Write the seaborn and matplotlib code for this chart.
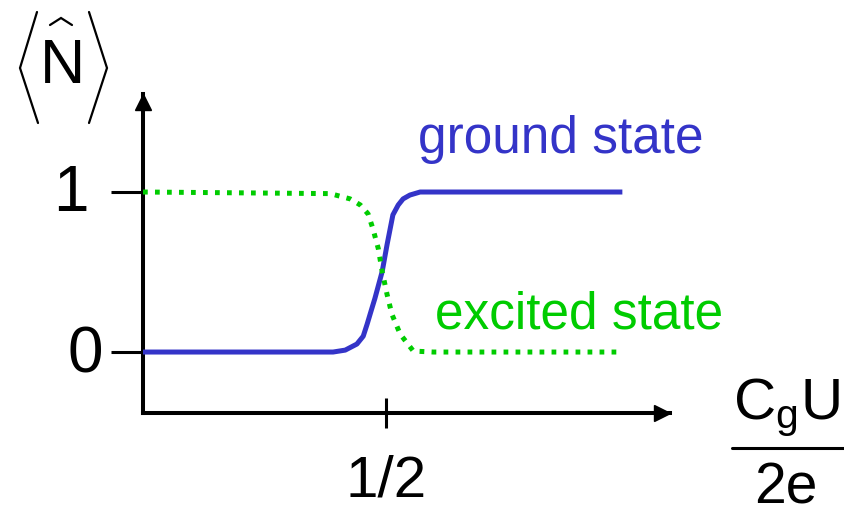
import numpy as np
import pandas as pd
import seaborn as sns
import matplotlib.pyplot as plt
from matplotlib.lines import Line2D
from matplotlib.transforms import ScaledTranslation

# Occupation <N> versus reduced gate charge C_g U / 2e
gate_charge_ground = [0.000, 0.323, 0.391, 0.416, 0.440, 0.453, 0.461, 0.469,
                      0.477, 0.492, 0.502, 0.514, 0.525, 0.535, 0.549, 0.570, 0.986]
occupation_ground = [0.000, 0.000, 0.000, 0.012, 0.050, 0.099, 0.174, 0.255,
                     0.335, 0.503, 0.671, 0.857, 0.919, 0.957, 0.981, 1.000, 1.000]

gate_charge_excited = [0.000, 0.385, 0.426, 0.447, 0.463, 0.473, 0.484, 0.492,
                       0.502, 0.512, 0.529, 0.556, 0.597, 0.986]
occupation_excited = [1.000, 0.990, 0.957, 0.919, 0.863, 0.770, 0.646, 0.503,
                      0.360, 0.236, 0.112, 0.006, 0.000, 0.000]

y_ticks = [0, 1]
y_tick_labels = ["0", "1"]
x_ticks = [0.5]
x_tick_labels = ["1/2"]

series_labels = ["ground state", "excited state"]
BLUE = "#3434c8"
GREEN = "#00cc00"

sns.set_style("white")
plt.rcParams["font.family"] = ["Liberation Sans", "DejaVu Sans"]
plt.rcParams["text.color"] = "black"
plt.rcParams["mathtext.fontset"] = "custom"
plt.rcParams["mathtext.rm"] = "Liberation Sans"

W, H = 844, 514
fig = plt.figure(figsize=(W / 100, H / 100), dpi=100)
ax = fig.add_axes([143 / W, (H - 413) / H, (670 - 143) / W, (413 - 94) / H])

ground = pd.DataFrame({"x": gate_charge_ground, "y": occupation_ground})
excited = pd.DataFrame({"x": gate_charge_excited, "y": occupation_excited})

sns.lineplot(data=ground, x="x", y="y", ax=ax, color=BLUE, linewidth=3.6,
             sort=False, estimator=None, solid_capstyle="butt", zorder=3)
sns.lineplot(data=excited, x="x", y="y", ax=ax, color=GREEN, linewidth=3.6,
             sort=False, estimator=None, zorder=4,
             linestyle=(0, (0.95, 1.45)), dash_capstyle="butt")

ax.set_xlim(0, 1.084)
ax.set_ylim(-0.381, 1.6125)

# axes drawn as arrows
for side in ("top", "right"):
    ax.spines[side].set_visible(False)
for side in ("left", "bottom"):
    ax.spines[side].set_linewidth(2.9)
    ax.spines[side].set_color("black")
    ax.spines[side].set_capstyle("projecting")

ms = 11
half = ms / 2 / 72
ax.plot([0], [1], marker="^", ms=ms, color="black", clip_on=False,
        transform=ax.transAxes + ScaledTranslation(0, -half, fig.dpi_scale_trans))
ax.plot([1], [0], marker=">", ms=ms, color="black", clip_on=False,
        transform=ax.transAxes + ScaledTranslation(-half, 0, fig.dpi_scale_trans))

ax.set_yticks(y_ticks)
ax.set_yticklabels(y_tick_labels)
ax.set_xticks(x_ticks)
ax.set_xticklabels(x_tick_labels)
ax.tick_params(axis="y", direction="out", length=23, width=2.2, pad=5.5,
               labelsize=46, left=True, colors="black")
ax.tick_params(axis="x", direction="inout", length=21.5, width=2.2, pad=19,
               labelsize=42, bottom=True, colors="black")
ylabels = ax.yaxis.get_majorticklabels()
ylabels[0].set_transform(ylabels[0].get_transform()
                         + ScaledTranslation(0, 0.03, fig.dpi_scale_trans))
ylabels[1].set_transform(ylabels[1].get_transform()
                         + ScaledTranslation(-0.15, 0.05, fig.dpi_scale_trans))
ax.set_xlabel("")
ax.set_ylabel("")
ax.grid(False)

# series labels
ax.text(0.566, 1.245, series_labels[0], color=BLUE, fontsize=37, va="baseline", ha="left")
ax.text(0.601, 0.150, series_labels[1], color=GREEN, fontsize=37, va="baseline", ha="left")


def fx(px):
    return px / W


def fy(py):
    return 1 - py / H


# y-axis label: <N-hat>
fig.text(fx(40), fy(83), "N", fontsize=45, va="baseline", ha="left", color="black")
for xs, ys in (([37, 20, 38], [12, 68, 123]),
               ([89, 107, 89], [12, 68, 123]),
               ([50, 61, 72], [25, 18, 25])):
    fig.add_artist(Line2D([fx(v) for v in xs], [fy(v) for v in ys],
                          color="black", lw=1.6, solid_joinstyle="miter"))

# x-axis label: C_g U / 2e
fig.text(fx(733), fy(419), r"C$_{\mathregular{g}}$U", fontsize=42, va="baseline",
         ha="left", color="black")
fig.add_artist(Line2D([fx(732), fx(844)], [fy(448), fy(448)], color="black", lw=2.2))
fig.text(fx(754), fy(503), "2e", fontsize=41, va="baseline", ha="left", color="black")

fig.savefig("out.png", dpi=100, facecolor="white")
